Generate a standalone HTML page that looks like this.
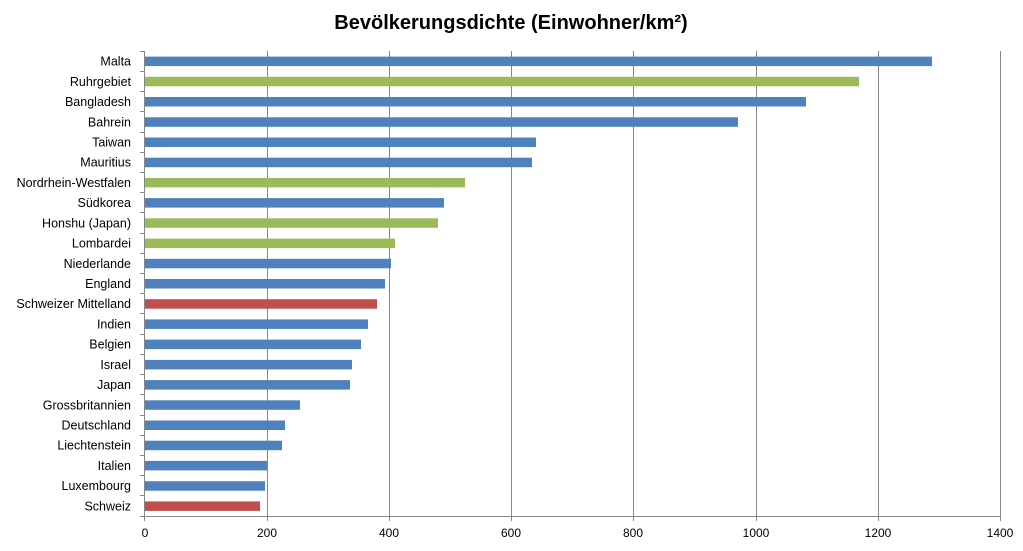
<!DOCTYPE html>
<html><head><meta charset="utf-8"><style>body{margin:0;background:#fff}</style></head><body>
<svg width="1023" height="546" xmlns="http://www.w3.org/2000/svg" font-family="Liberation Sans, sans-serif">
<rect width="1023" height="546" fill="#fff"/>
<text x="511" y="29" text-anchor="middle" font-size="20" font-weight="bold" fill="#000">Bevölkerungsdichte (Einwohner/km²)</text>
<g stroke="#868686" stroke-width="1">
<line x1="267.5" y1="51" x2="267.5" y2="516"/><line x1="389.5" y1="51" x2="389.5" y2="516"/>
<line x1="511.5" y1="51" x2="511.5" y2="516"/><line x1="633.5" y1="51" x2="633.5" y2="516"/>
<line x1="756.5" y1="51" x2="756.5" y2="516"/><line x1="878.5" y1="51" x2="878.5" y2="516"/>
<line x1="1000.5" y1="51" x2="1000.5" y2="516"/>
<line x1="144.5" y1="51" x2="144.5" y2="516"/><line x1="144" y1="516.5" x2="1000" y2="516.5"/>
<line x1="140" y1="51.5" x2="144" y2="51.5"/><line x1="140" y1="71.5" x2="144" y2="71.5"/><line x1="140" y1="91.5" x2="144" y2="91.5"/><line x1="140" y1="111.5" x2="144" y2="111.5"/><line x1="140" y1="132.5" x2="144" y2="132.5"/><line x1="140" y1="152.5" x2="144" y2="152.5"/><line x1="140" y1="172.5" x2="144" y2="172.5"/><line x1="140" y1="192.5" x2="144" y2="192.5"/><line x1="140" y1="212.5" x2="144" y2="212.5"/><line x1="140" y1="233.5" x2="144" y2="233.5"/><line x1="140" y1="253.5" x2="144" y2="253.5"/><line x1="140" y1="273.5" x2="144" y2="273.5"/><line x1="140" y1="293.5" x2="144" y2="293.5"/><line x1="140" y1="313.5" x2="144" y2="313.5"/><line x1="140" y1="334.5" x2="144" y2="334.5"/><line x1="140" y1="354.5" x2="144" y2="354.5"/><line x1="140" y1="374.5" x2="144" y2="374.5"/><line x1="140" y1="394.5" x2="144" y2="394.5"/><line x1="140" y1="415.5" x2="144" y2="415.5"/><line x1="140" y1="435.5" x2="144" y2="435.5"/><line x1="140" y1="455.5" x2="144" y2="455.5"/><line x1="140" y1="475.5" x2="144" y2="475.5"/><line x1="140" y1="495.5" x2="144" y2="495.5"/><line x1="140" y1="516.5" x2="144" y2="516.5"/>
<line x1="144.5" y1="516" x2="144.5" y2="521"/><line x1="267.5" y1="516" x2="267.5" y2="521"/><line x1="389.5" y1="516" x2="389.5" y2="521"/><line x1="511.5" y1="516" x2="511.5" y2="521"/><line x1="633.5" y1="516" x2="633.5" y2="521"/><line x1="756.5" y1="516" x2="756.5" y2="521"/><line x1="878.5" y1="516" x2="878.5" y2="521"/><line x1="1000.5" y1="516" x2="1000.5" y2="521"/>
</g>
<g>
<rect x="145" y="56.6" width="787" height="9.5" fill="#4F81BD"/>
<rect x="145" y="76.8" width="714" height="9.5" fill="#9BBB59"/>
<rect x="145" y="97.0" width="661" height="9.5" fill="#4F81BD"/>
<rect x="145" y="117.3" width="593" height="9.5" fill="#4F81BD"/>
<rect x="145" y="137.5" width="391" height="9.5" fill="#4F81BD"/>
<rect x="145" y="157.7" width="387" height="9.5" fill="#4F81BD"/>
<rect x="145" y="177.9" width="320" height="9.5" fill="#9BBB59"/>
<rect x="145" y="198.1" width="299" height="9.5" fill="#4F81BD"/>
<rect x="145" y="218.3" width="293" height="9.5" fill="#9BBB59"/>
<rect x="145" y="238.6" width="250" height="9.5" fill="#9BBB59"/>
<rect x="145" y="258.8" width="246" height="9.5" fill="#4F81BD"/>
<rect x="145" y="279.0" width="240" height="9.5" fill="#4F81BD"/>
<rect x="145" y="299.2" width="232" height="9.5" fill="#C0504D"/>
<rect x="145" y="319.4" width="223" height="9.5" fill="#4F81BD"/>
<rect x="145" y="339.6" width="216" height="9.5" fill="#4F81BD"/>
<rect x="145" y="359.9" width="207" height="9.5" fill="#4F81BD"/>
<rect x="145" y="380.1" width="205" height="9.5" fill="#4F81BD"/>
<rect x="145" y="400.3" width="155" height="9.5" fill="#4F81BD"/>
<rect x="145" y="420.5" width="140" height="9.5" fill="#4F81BD"/>
<rect x="145" y="440.7" width="137" height="9.5" fill="#4F81BD"/>
<rect x="145" y="460.9" width="122" height="9.5" fill="#4F81BD"/>
<rect x="145" y="481.2" width="120" height="9.5" fill="#4F81BD"/>
<rect x="145" y="501.4" width="115" height="9.5" fill="#C0504D"/>
</g>
<g font-size="12.5" fill="#000" text-anchor="end">
<text x="131" y="65.6">Malta</text>
<text x="131" y="85.8">Ruhrgebiet</text>
<text x="131" y="106.0">Bangladesh</text>
<text x="131" y="126.3">Bahrein</text>
<text x="131" y="146.5">Taiwan</text>
<text x="131" y="166.7">Mauritius</text>
<text x="131" y="186.9">Nordrhein-Westfalen</text>
<text x="131" y="207.1">Südkorea</text>
<text x="131" y="227.3">Honshu (Japan)</text>
<text x="131" y="247.6">Lombardei</text>
<text x="131" y="267.8">Niederlande</text>
<text x="131" y="288.0">England</text>
<text x="131" y="308.2">Schweizer Mittelland</text>
<text x="131" y="328.4">Indien</text>
<text x="131" y="348.6">Belgien</text>
<text x="131" y="368.9">Israel</text>
<text x="131" y="389.1">Japan</text>
<text x="131" y="409.3">Grossbritannien</text>
<text x="131" y="429.5">Deutschland</text>
<text x="131" y="449.7">Liechtenstein</text>
<text x="131" y="469.9">Italien</text>
<text x="131" y="490.2">Luxembourg</text>
<text x="131" y="510.4">Schweiz</text>
</g>
<g font-size="12" fill="#000" text-anchor="middle">
<text x="145" y="537">0</text><text x="267" y="537">200</text><text x="389" y="537">400</text><text x="511" y="537">600</text><text x="633" y="537">800</text><text x="756" y="537">1000</text><text x="878" y="537">1200</text><text x="1000" y="537">1400</text>
</g>
</svg>
</body></html>
